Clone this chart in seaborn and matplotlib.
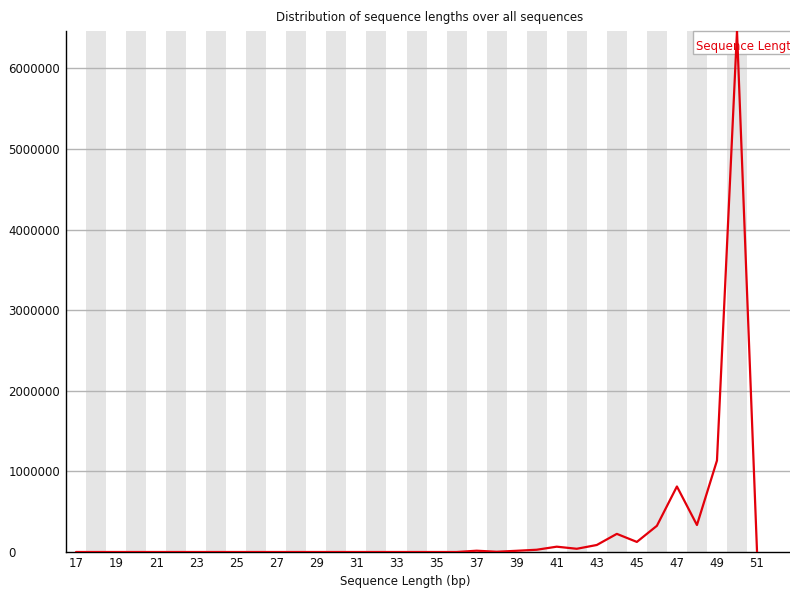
import numpy as np
import pandas as pd
import matplotlib
matplotlib.use("Agg")
import matplotlib.pyplot as plt
from matplotlib.patches import Rectangle
import seaborn as sns

# sequence length (bp) and read counts
lengths = list(range(17, 52))
counts = [0] * 20 + [16000, 3000, 15000, 28000, 66000, 40000, 87000,
                     225000, 125000, 325000, 813000, 335000, 1135000,
                     6465000, 0]
yticks = [0, 1000000, 2000000, 3000000, 4000000, 5000000, 6000000]

df = pd.DataFrame({"Sequence Length (bp)": lengths, "Count": counts})

sns.set_style("white")
plt.rcParams["font.family"] = ["DejaVu Sans"]
plt.rcParams["font.size"] = 8

fig = plt.figure(figsize=(7.9, 5.93), dpi=100)
ax = fig.add_axes([66 / 790, 1 - 552 / 593, (790 - 66) / 790, (552 - 31) / 593])

# alternating background stripes on even lengths
for v in lengths:
    if v % 2 == 0:
        ax.axvspan(v - 0.5, v + 0.5, color="#e5e5e5", lw=0, zorder=0)

for t in yticks[1:]:
    ax.axhline(t, color="#b4b4b4", lw=1, zorder=1)

sns.lineplot(data=df, x="Sequence Length (bp)", y="Count", ax=ax,
             color="#e3000b", lw=1.6, zorder=3)

ax.set_xlim(16.5, 16.5 + (790 - 66) / 20.03)
ax.set_ylim(0, max(counts))
ax.set_xticks([v for v in lengths if v % 2 == 1])
ax.set_yticks(yticks)
ax.set_yticklabels([str(t) for t in yticks])
ax.tick_params(axis="both", length=0, labelsize=8.5, colors="#111111")
ax.tick_params(axis="y", pad=41.5)
for lab in ax.get_yticklabels():
    lab.set_horizontalalignment("left")
ax.set_xlabel("")
ax.set_ylabel("")

for side in ["top", "right"]:
    ax.spines[side].set_visible(False)
for side in ["left", "bottom"]:
    ax.spines[side].set_color("black")
    ax.spines[side].set_linewidth(1)

fig.text(430 / 790, 1 - 17 / 593, "Distribution of sequence lengths over all sequences",
         ha="center", va="center", fontsize=8.5, color="#111111")
fig.text(405 / 790, 1 - 582 / 593, "Sequence Length (bp)",
         ha="center", va="center", fontsize=8.5, color="#111111")

# legend box, running off the right edge like the original; the line passes over it
ax.add_patch(Rectangle((693 / 790, 1 - 54 / 593), 120 / 790, 23 / 593,
                       transform=fig.transFigure, fc="white",
                       ec="#b4b4b4", lw=1, zorder=2, clip_on=False))
ax.text(696 / 790, 1 - 46.5 / 593, "Sequence Length", ha="left", va="center",
        fontsize=8.5, color="#e3000b", zorder=4, transform=fig.transFigure,
        clip_on=False)

fig.savefig("out.png", dpi=100)
